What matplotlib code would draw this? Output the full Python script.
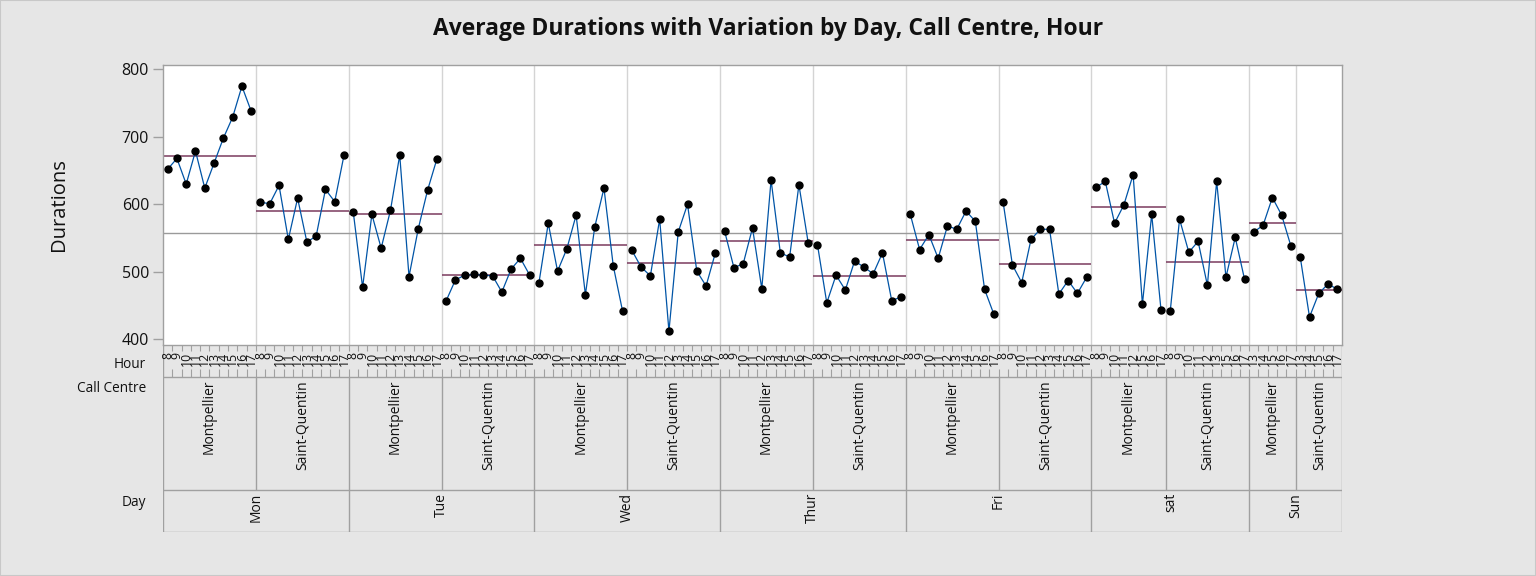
import matplotlib
matplotlib.use('Agg')
import matplotlib.pyplot as plt
from matplotlib.patches import Rectangle

plt.rcParams['font.family'] = ['Open Sans', 'DejaVu Sans']

# ---------------- data ----------------
days = ['Mon', 'Tue', 'Wed', 'Thur', 'Fri', 'sat', 'Sun']
centres = ['Montpellier', 'Saint-Quentin']

hours_std = [8, 9, 10, 11, 12, 13, 14, 15, 16, 17]
hours_sat_montpellier = [8, 9, 10, 11, 12, 15, 16, 17]
hours_sat_saintquentin = [8, 9, 10, 11, 12, 13, 15, 16, 17]
hours_sun_montpellier = [13, 14, 15, 16, 17]
hours_sun_saintquentin = [13, 14, 15, 16, 17]

mon_montpellier = [652, 668, 630, 679, 624, 661, 698, 729, 775, 738]
mon_saintquentin = [603, 601, 628, 548, 609, 544, 553, 622, 604, 673]
tue_montpellier = [588, 477, 585, 535, 591, 673, 493, 564, 621, 667]
tue_saintquentin = [457, 488, 495, 496, 495, 494, 470, 504, 520, 495]
wed_montpellier = [484, 572, 501, 534, 584, 466, 566, 624, 509, 442]
wed_saintquentin = [532, 507, 494, 578, 412, 559, 600, 501, 479, 528]
thu_montpellier = [560, 506, 512, 565, 475, 636, 528, 522, 629, 543]
thu_saintquentin = [540, 454, 495, 473, 516, 507, 497, 528, 457, 463]
fri_montpellier = [585, 533, 555, 520, 568, 563, 590, 575, 474, 437]
fri_saintquentin = [603, 510, 484, 548, 563, 563, 467, 487, 468, 492]
sat_montpellier = [625, 634, 572, 599, 644, 452, 585, 444]
sat_saintquentin = [442, 578, 529, 545, 480, 634, 492, 551, 489]
sun_montpellier = [559, 569, 610, 584, 538]
sun_saintquentin = [522, 433, 468, 482, 474]

group_means = [671, 590, 585, 495, 540, 513, 546, 494, 547, 511, 596, 514, 572, 473]
grand_mean = 557.5

# ---------------- assemble ----------------
group_hours = [hours_std] * 10 + [hours_sat_montpellier, hours_sat_saintquentin,
                                  hours_sun_montpellier, hours_sun_saintquentin]
group_values = [mon_montpellier, mon_saintquentin, tue_montpellier, tue_saintquentin,
                wed_montpellier, wed_saintquentin, thu_montpellier, thu_saintquentin,
                fri_montpellier, fri_saintquentin, sat_montpellier, sat_saintquentin,
                sun_montpellier, sun_saintquentin]

W, H = 1536, 576
fig = plt.figure(figsize=(W / 100, H / 100), dpi=100)
bg = '#e6e6e6'
fig.patch.set_facecolor(bg)
fig.patches.append(Rectangle((0, 0), 1, 1, transform=fig.transFigure,
                             fill=False, edgecolor='#c8c8c8', lw=1.5))

x0, x1 = 163, 1342
top, bot = 65, 345
ax = fig.add_axes([x0 / W, 1 - bot / H, (x1 - x0) / W, (bot - top) / H])
ax.set_facecolor('white')

total = sum(len(v) for v in group_values)
grid_col = '#d4d4d4'
spine_col = '#a0a0a0'
txt = '#111111'

starts = []
pos = 0
for gi, (hrs, vals) in enumerate(zip(group_hours, group_values)):
    xs = [pos + i + 0.5 for i in range(len(vals))]
    starts.append(pos)
    ax.plot(xs, vals, color='#0054a6', lw=0.9, zorder=3)
    ax.plot(xs, vals, 'o', color='black', ms=5, zorder=4)
    ax.hlines(group_means[gi], pos, pos + len(vals), color='#7b3a5e', lw=1.1, zorder=2)
    pos += len(vals)
    if pos < total:
        ax.axvline(pos, color=grid_col, lw=1, zorder=1)
starts.append(total)

ax.axhline(grand_mean, color='#9a9a9a', lw=1, zorder=1.5)
ax.set_xlim(0, total)
ax.set_ylim(391.5, 806.5)
ax.set_xticks([])
ax.set_yticks([400, 500, 600, 700, 800])
ax.tick_params(axis='y', direction='out', length=7, width=1, color=spine_col,
               labelsize=11.5, pad=3, labelcolor=txt)
for s in ax.spines.values():
    s.set_color(spine_col)
    s.set_linewidth(1)
ax.set_ylabel('Durations', fontsize=14.5, labelpad=38, color=txt)

# ---------------- lower label strip ----------------
sb = 532
ax2 = fig.add_axes([x0 / W, 1 - sb / H, (x1 - x0) / W, (sb - bot) / H])
ax2.set_xlim(0, total)
ax2.set_ylim(sb, bot)
ax2.axis('off')
ax2.patch.set_alpha(0)

lc = spine_col
ax2.vlines([0, total], bot, sb, color=lc, lw=1)
ax2.hlines([377, 490, sb], 0, total, color=lc, lw=1)
for k in range(1, total):
    ax2.vlines(k, bot, 351, color=lc, lw=0.8)
    ax2.vlines(k, 369, 377, color=lc, lw=0.8)

# hour labels
pos = 0
for hrs in group_hours:
    for i, h in enumerate(hrs):
        ax2.text(pos + i + 0.5, 352, str(h), rotation=90, ha='center', va='top',
                 fontsize=8.8, color=txt)
    pos += len(hrs)

# call centre labels and separators
for gi in range(len(group_values)):
    s, e = starts[gi], starts[gi + 1]
    ax2.text((s + e) / 2, 380, centres[gi % 2], rotation=90, ha='center', va='top',
             fontsize=10, color=txt)
    if 0 < s:
        ax2.vlines(s, 377, 490, color=lc, lw=1)

# day labels
for di, d in enumerate(days):
    s, e = starts[2 * di], starts[2 * di + 2]
    ax2.text((s + e) / 2, 493, d, rotation=90, ha='center', va='top', fontsize=10,
             color=txt)
    if s > 0:
        ax2.vlines(s, 490, sb, color=lc, lw=1)

fig.text(146 / W, 1 - 365 / H, 'Hour', ha='right', va='center', fontsize=9.8, color=txt)
fig.text(146 / W, 1 - 388 / H, 'Call Centre', ha='right', va='center', fontsize=9.8,
         color=txt)
fig.text(146 / W, 1 - 502 / H, 'Day', ha='right', va='center', fontsize=9.8, color=txt)

fig.text(0.5, 1 - 29 / H, 'Average Durations with Variation by Day, Call Centre, Hour',
         ha='center', va='center', fontsize=16.5, fontweight='bold', color=txt)

fig.savefig('out.png', dpi=100, facecolor=bg)
